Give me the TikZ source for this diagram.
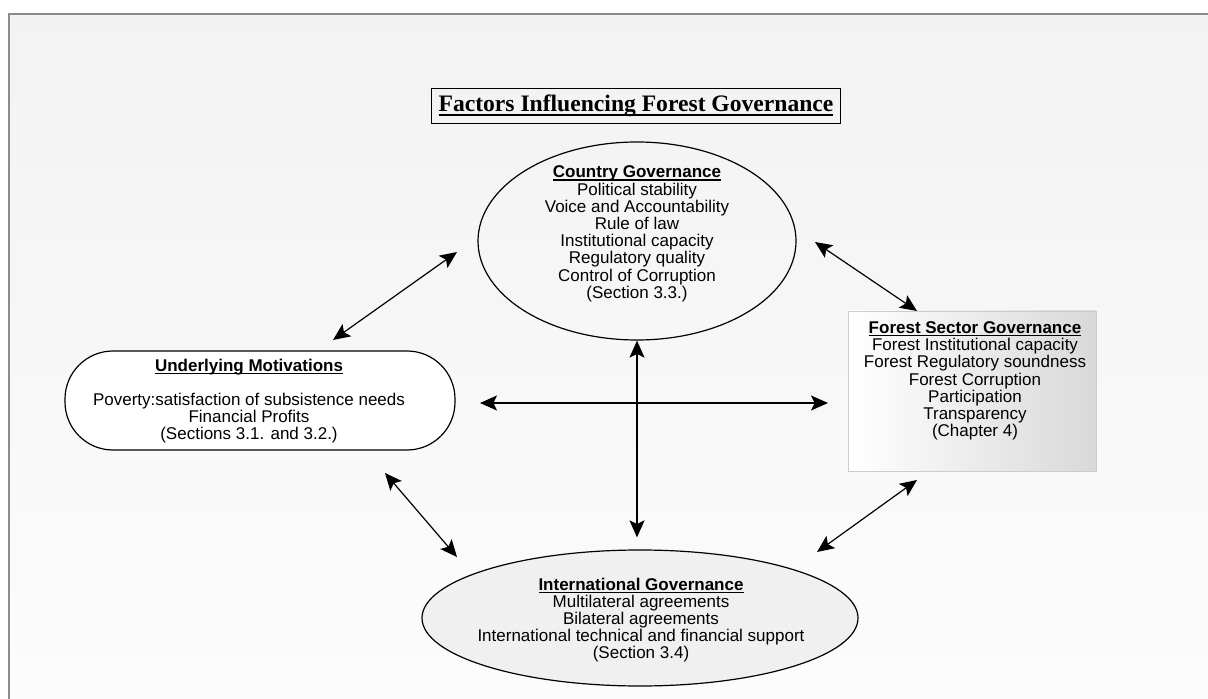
\documentclass[tikz,border=0pt]{standalone}
\usepackage{fontspec}
\setmainfont{Liberation Serif}
\setsansfont{Liberation Sans}
\usetikzlibrary{arrows.meta,shapes.geometric,positioning}

\tikzset{
  every node/.style={font=\sffamily\fontsize{8.5}{8.6}\selectfont, align=center},
  govoval/.style={draw, ellipse, line width=0.6pt, inner sep=0pt},
  linkarrow/.style={line width=0.6pt,
    {Stealth[length=8.5pt,width=7.5pt,inset=1.8pt]}-{Stealth[length=8.5pt,width=7.5pt,inset=1.8pt]}},
}
\newcommand{\headline}[1]{\setbox0\hbox{\textbf{#1}}\rlap{\rule[-1.3pt]{\wd0}{0.55pt}}\box0}
\newcommand{\titleline}[1]{\setbox0\hbox{#1}\rlap{\rule[-2pt]{\wd0}{0.9pt}}\box0}

\begin{document}
\begin{tikzpicture}[x=0.5pt,y=-0.5pt]
  \clip (0,0) rectangle (1208,699);
  \fill[white] (0,0) rectangle (1208,699);

  % Frame
  \shade[top color=black!5, bottom color=black!1] (9,14) rectangle (1230,720);
  \draw[line width=1pt, black!45] (9,720) -- (9,14) -- (1230,14);

  % Title
  \node[draw, line width=0.5pt, minimum width=202pt, minimum height=15.5pt,
        font=\rmfamily\bfseries\fontsize{11.8}{12}\selectfont] (title) at (636,106)
        {\titleline{Factors Influencing Forest Governance}};

  % Country governance
  \node[govoval, minimum width=159pt, minimum height=99pt] (country) at (637,241) {};
  \node (countrytxt) at (637,234) {\headline{Country Governance}\\Political stability\\
        Voice and Accountability\\Rule of law\\Institutional capacity\\
        Regulatory quality\\Control of Corruption\\(Section 3.3.)};

  % Underlying motivations
  \node[draw, fill=white, line width=0.6pt, rounded corners=24pt,
        minimum width=195pt, minimum height=49.5pt] (motiv) at (260,400.5) {};
  \node (motivtxt) at (249,401) {\headline{Underlying Motivations}\\[8.5pt]
        Poverty:satisfaction of subsistence needs\\Financial Profits\\
        (Sections 3.1. and 3.2.)};

  % Forest sector governance
  \node[draw=black!20, left color=white, right color=black!15, inner sep=0pt,
        minimum width=124pt, minimum height=80pt] (forest) at (972,391) {};
  \node (foresttxt) at (975,381) {\headline{Forest Sector Governance}\\
        Forest Institutional capacity\\Forest Regulatory soundness\\
        Forest Corruption\\Participation\\Transparency\\(Chapter 4)};

  % International governance
  \node[govoval, fill=black!6, minimum width=218pt, minimum height=68pt] (intl) at (640,618) {};
  \node (intltxt) at (641,620) {\headline{International Governance}\\
        Multilateral agreements\\Bilateral agreements\\
        International technical and financial support\\(Section 3.4)};

  % Arrow ends
  \coordinate (ulA) at (333,340);  \coordinate (ulB) at (457,252);
  \coordinate (urA) at (815,242);  \coordinate (urB) at (917,311);
  \coordinate (hA) at (480,403);   \coordinate (hB) at (828,403);
  \coordinate (llA) at (385,473);  \coordinate (llB) at (457,557);
  \coordinate (lrA) at (817,552);  \coordinate (lrB) at (917,480);

  \draw[linkarrow] (ulA) -- (ulB);
  \draw[linkarrow] (urA) -- (urB);
  \draw[linkarrow] (hA) -- (hB);
  \draw[linkarrow, shorten >=12pt/2] (country.south) -- (country.south |- intl.north);
  \draw[linkarrow] (llA) -- (llB);
  \draw[linkarrow] (lrA) -- (lrB);
\end{tikzpicture}
\end{document}
